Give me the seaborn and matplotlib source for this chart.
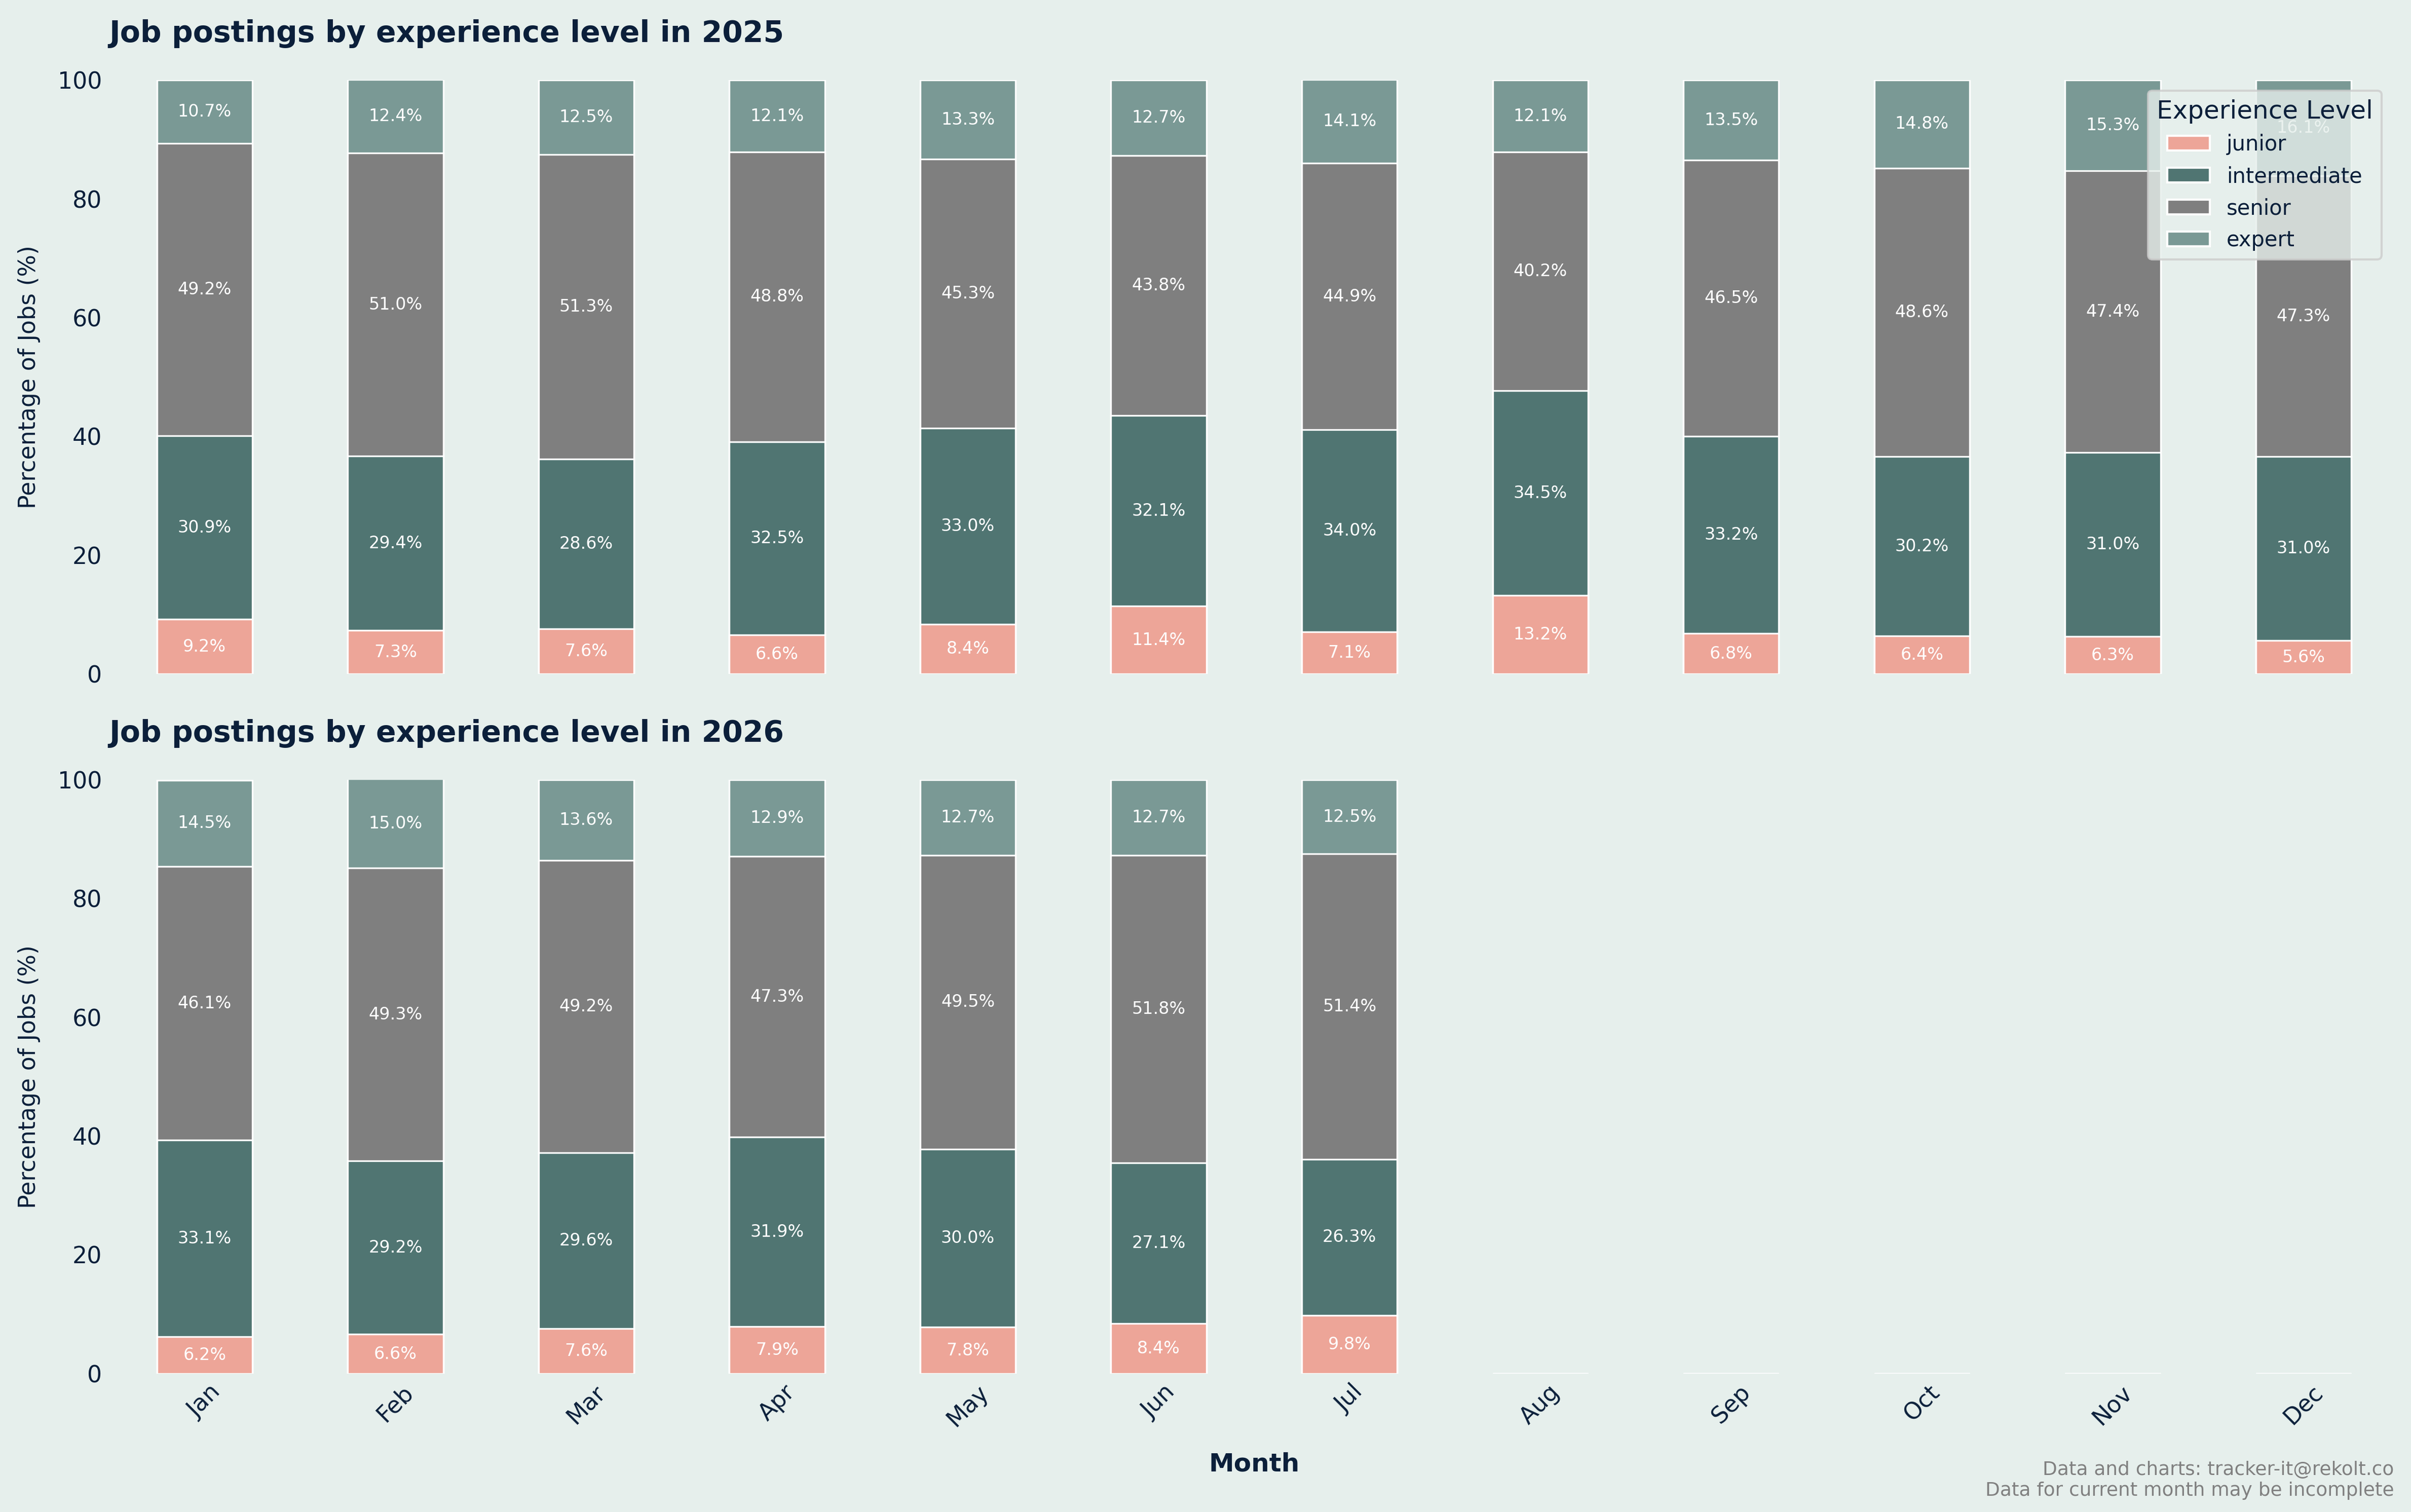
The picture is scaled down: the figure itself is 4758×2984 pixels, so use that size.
import numpy as np
import pandas as pd
import seaborn as sns
import matplotlib.pyplot as plt
from matplotlib.patches import Patch

# data (percent of postings)
months = ["Jan", "Feb", "Mar", "Apr", "May", "Jun",
          "Jul", "Aug", "Sep", "Oct", "Nov", "Dec"]
levels = ["junior", "intermediate", "senior", "expert"]

junior_2025 = [9.2, 7.3, 7.6, 6.6, 8.4, 11.4, 7.1, 13.2, 6.8, 6.4, 6.3, 5.6]
intermediate_2025 = [30.9, 29.4, 28.6, 32.5, 33.0, 32.1, 34.0, 34.5, 33.2, 30.2, 31.0, 31.0]
senior_2025 = [49.2, 51.0, 51.3, 48.8, 45.3, 43.8, 44.9, 40.2, 46.5, 48.6, 47.4, 47.3]
expert_2025 = [10.7, 12.4, 12.5, 12.1, 13.3, 12.7, 14.1, 12.1, 13.5, 14.8, 15.3, 16.1]

# 2026 only has data up to July, rest is zero
junior_2026 = [6.2, 6.6, 7.6, 7.9, 7.8, 8.4, 9.8, 0, 0, 0, 0, 0]
intermediate_2026 = [33.1, 29.2, 29.6, 31.9, 30.0, 27.1, 26.3, 0, 0, 0, 0, 0]
senior_2026 = [46.1, 49.3, 49.2, 47.3, 49.5, 51.8, 51.4, 0, 0, 0, 0, 0]
expert_2026 = [14.5, 15.0, 13.6, 12.9, 12.7, 12.7, 12.5, 0, 0, 0, 0, 0]

colors = {"junior": "#EDA598", "intermediate": "#507572",
          "senior": "#7F7F7F", "expert": "#7A9995"}
bg = "#E6EFEC"
navy = "#0B1F3A"

sns.set_theme(style="white")
plt.rcParams["font.family"] = ["DejaVu Sans"]
plt.rcParams["text.color"] = navy
plt.rcParams["axes.labelcolor"] = navy
plt.rcParams["xtick.color"] = navy
plt.rcParams["ytick.color"] = navy


def make_df(j, i, s, e):
    df = pd.DataFrame({"month": months, "junior": j, "intermediate": i,
                       "senior": s, "expert": e})
    return df


def plot_year(ax, df, year):
    cum = df[levels].cumsum(axis=1)
    # draw the tallest stack first, smaller ones on top of it
    for lvl in reversed(levels):
        sns.barplot(x=df["month"], y=cum[lvl], order=months, color=colors[lvl],
                    saturation=1, width=0.5, edgecolor="white", linewidth=0.8,
                    ax=ax)
    for k, m in enumerate(months):
        bottom = 0
        for lvl in levels:
            v = df.loc[k, lvl]
            if v > 0:
                ax.text(k, bottom + v / 2, f"{v:.1f}%", color="white",
                        fontsize=8, ha="center", va="center")
            bottom += v
    ax.set_ylim(0, 100)
    ax.set_facecolor(bg)
    ax.set_title(f"Job postings by experience level in {year}", loc="left",
                 fontsize=14, fontweight="bold", pad=18, color=navy)
    ax.set_ylabel("Percentage of Jobs (%)", fontsize=11, labelpad=8)
    ax.tick_params(axis="both", length=0, labelsize=11)
    sns.despine(ax=ax, left=True, bottom=True)


df25 = make_df(junior_2025, intermediate_2025, senior_2025, expert_2025)
df26 = make_df(junior_2026, intermediate_2026, senior_2026, expert_2026)

fig, (ax1, ax2) = plt.subplots(2, 1, figsize=(15.86, 9.947), dpi=300)
fig.patch.set_facecolor(bg)
fig.subplots_adjust(left=0.0453, right=0.995, top=0.947, bottom=0.0916, hspace=0.178)

plot_year(ax1, df25, 2025)
plot_year(ax2, df26, 2026)

ax1.set_xlabel("")
ax1.set_xticklabels([])
ax2.set_xlabel("Month", fontsize=12, fontweight="bold", labelpad=10)
ax2.tick_params(axis="x", rotation=45)

handles = [Patch(facecolor=colors[l], edgecolor="white", label=l) for l in levels]
leg = ax1.legend(handles=handles, title="Experience Level", loc="upper right",
                 bbox_to_anchor=(0.997, 1.0), fontsize=10, title_fontsize=12,
                 frameon=True, framealpha=0.8, facecolor=bg, edgecolor="#cccccc")

fig.text(0.993, 0.008, "Data and charts: tracker-it@rekolt.co\nData for current month may be incomplete",
         ha="right", va="bottom", fontsize=9, color="#808080")

plt.savefig("out.png", dpi=300, facecolor=bg)
